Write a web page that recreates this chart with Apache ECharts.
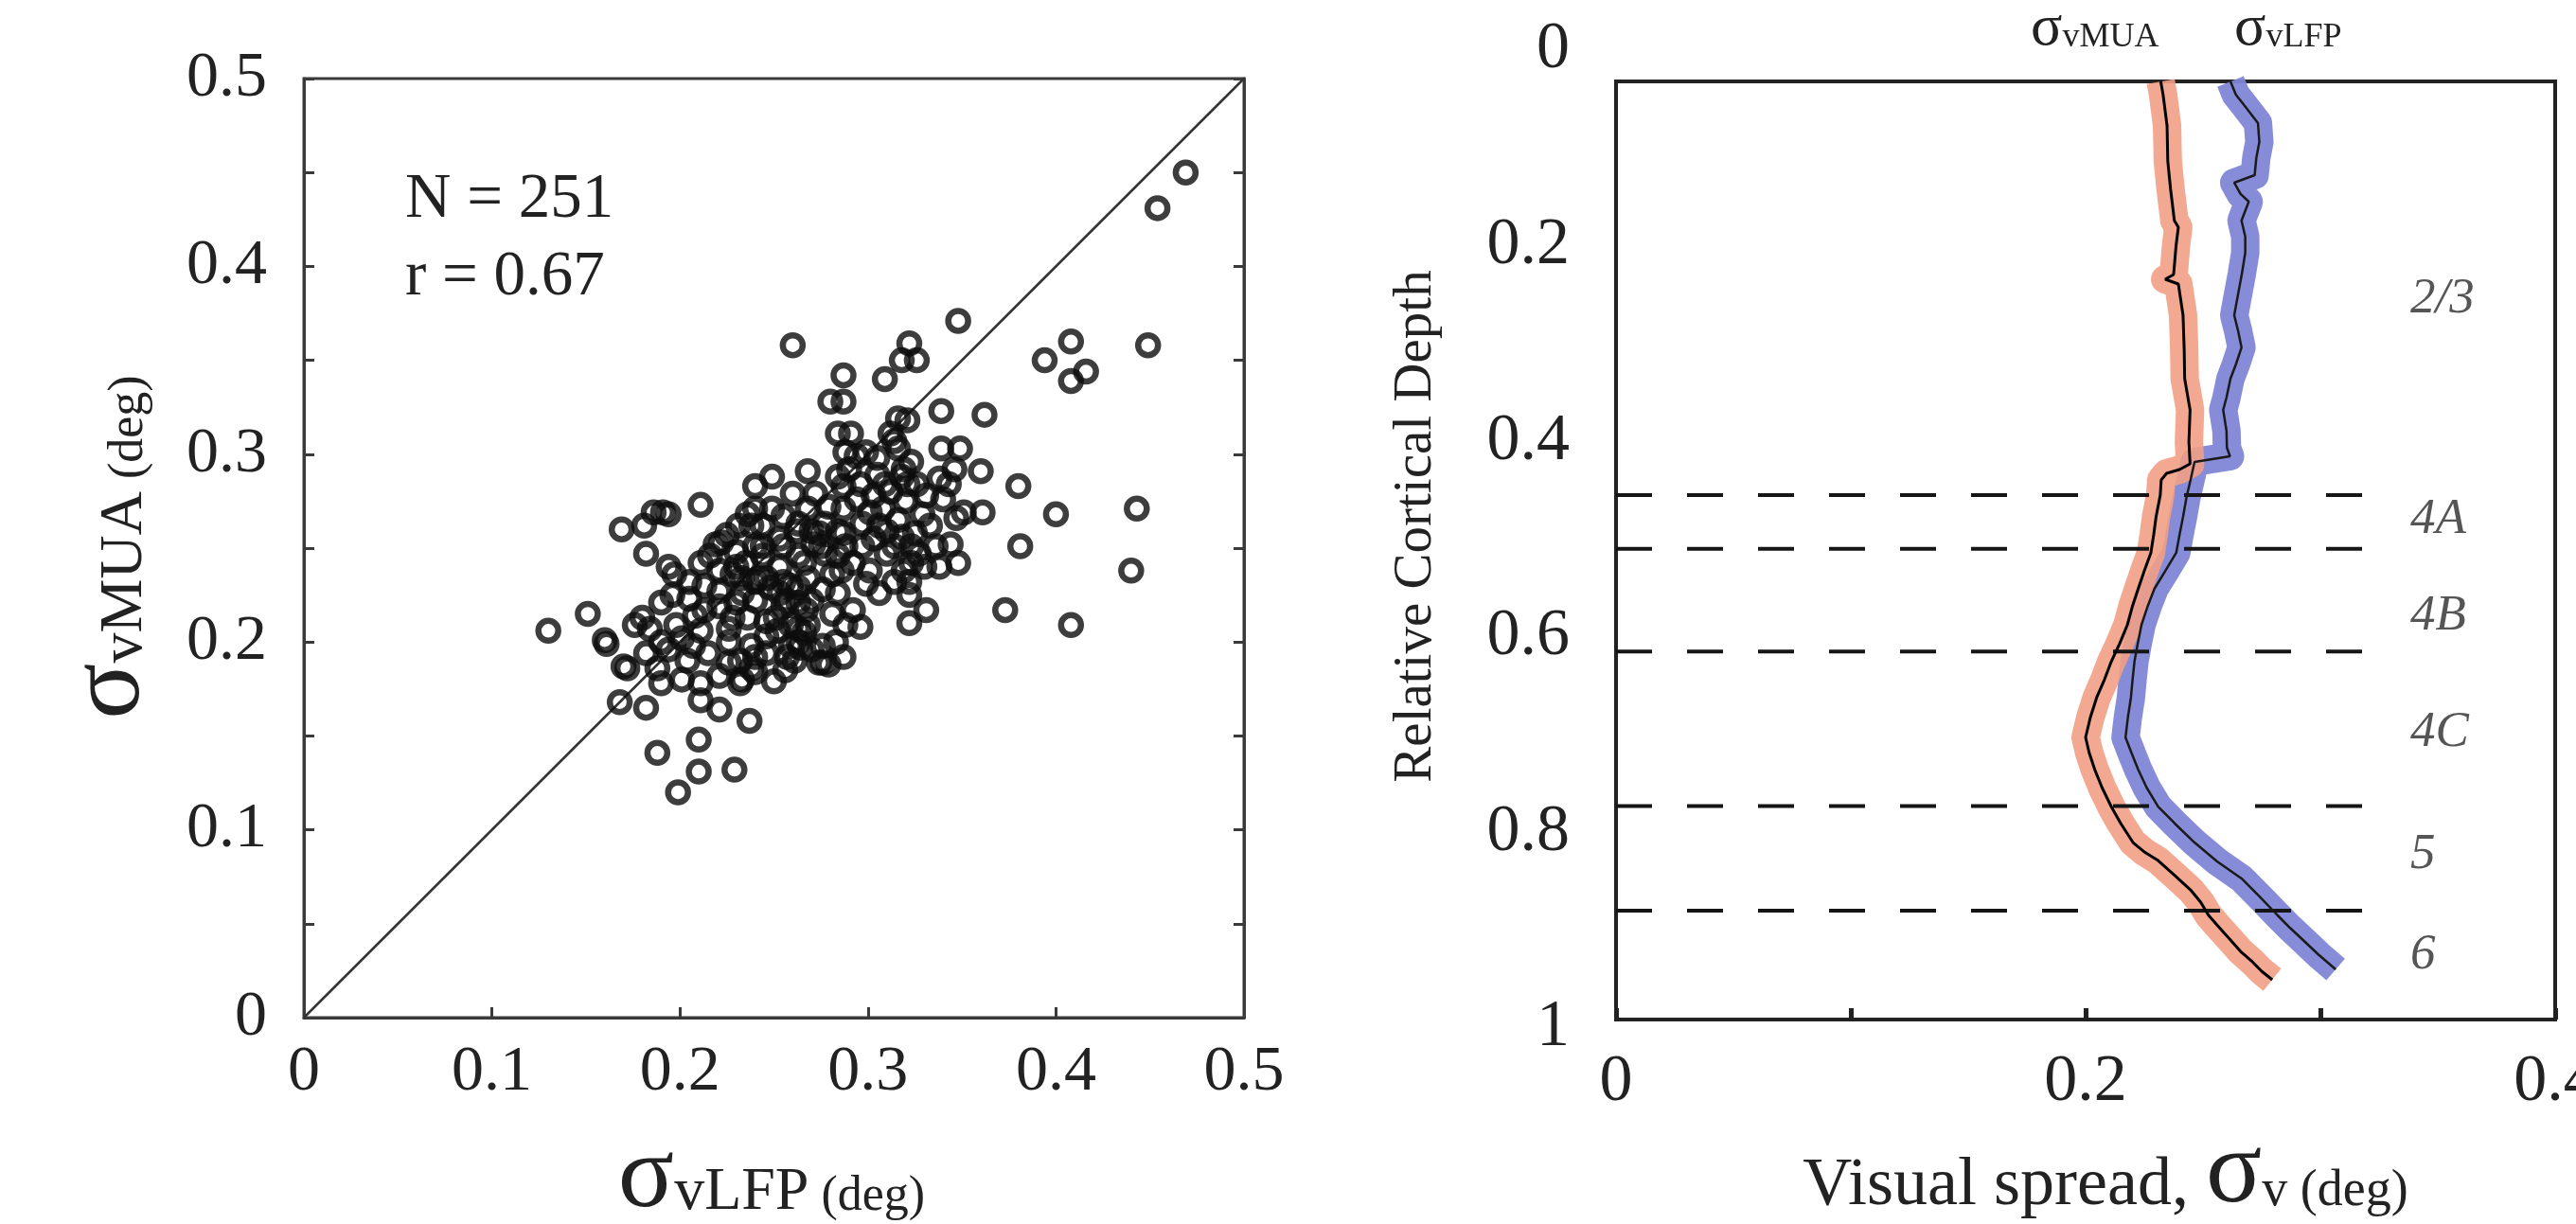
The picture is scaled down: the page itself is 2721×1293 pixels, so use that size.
<!DOCTYPE html>
<html>
<head>
<meta charset="utf-8">
<script src="https://cdn.jsdelivr.net/npm/echarts@6/dist/echarts.min.js"></script>
<style>
  html, body { margin: 0; padding: 0; background: #fff; }
  #chart { width: 2721px; height: 1293px; }
</style>
</head>
<body>
<div id="chart"></div>
<script>
const SERIF = '"Liberation Serif", "Times New Roman", serif';

// ---- Left panel: visual spread per recording site, LFP (x) vs MUA (y), deg ----
const siteSpread = [
  [0.469,0.450],[0.454,0.431],[0.348,0.371],[0.260,0.358],[0.322,0.359],[0.318,0.350],[0.326,0.350],[0.309,0.340],[0.287,0.342],[0.408,0.360],
  [0.449,0.358],[0.394,0.350],[0.408,0.339],[0.416,0.344],[0.339,0.323],[0.362,0.321],[0.280,0.328],[0.287,0.328],[0.284,0.311],[0.291,0.311],
  [0.316,0.319],[0.321,0.318],[0.339,0.303],[0.349,0.303],[0.360,0.291],[0.380,0.283],[0.400,0.268],[0.443,0.271],[0.381,0.251],[0.440,0.238],
  [0.373,0.217],[0.408,0.209],[0.322,0.210],[0.331,0.217],[0.348,0.242],[0.361,0.269],[0.347,0.266],[0.351,0.269],[0.338,0.287],[0.331,0.278],
  [0.329,0.268],[0.336,0.251],[0.323,0.251],
  [0.130,0.206],[0.151,0.215],[0.160,0.201],[0.161,0.199],[0.170,0.187],[0.172,0.186],[0.168,0.168],[0.182,0.165],[0.188,0.141],[0.210,0.148],
  [0.210,0.131],[0.199,0.120],[0.229,0.132],[0.237,0.158],[0.221,0.164],[0.169,0.260],[0.181,0.262],[0.186,0.269],[0.191,0.269],[0.194,0.268],
  [0.182,0.247],[0.211,0.273],[0.250,0.179],[0.233,0.180],
  [0.249,0.288],[0.240,0.283],[0.268,0.291],[0.272,0.279],[0.260,0.279],[0.231,0.262],[0.219,0.252],[0.240,0.271],[0.255,0.267],[0.263,0.263],
  [0.274,0.258],[0.287,0.283],[0.287,0.271],[0.287,0.258],[0.284,0.246],[0.286,0.238],[0.230,0.248],[0.230,0.240],[0.194,0.240],[0.197,0.236],
  [0.211,0.242],[0.221,0.238],[0.228,0.236],[0.205,0.232],[0.213,0.230],[0.221,0.227],[0.240,0.232],[0.248,0.229],[0.255,0.232],[0.263,0.229],
  [0.190,0.221],[0.196,0.225],[0.205,0.223],[0.213,0.217],[0.221,0.219],[0.230,0.221],[0.236,0.213],[0.226,0.207],[0.255,0.219],[0.263,0.221],
  [0.267,0.217],[0.246,0.211],[0.252,0.206],[0.263,0.207],[0.263,0.200],[0.279,0.188],[0.276,0.198],[0.283,0.200],[0.287,0.192],[0.176,0.209],
  [0.180,0.213],[0.184,0.207],[0.190,0.200],[0.182,0.194],[0.188,0.186],[0.194,0.196],[0.201,0.202],[0.207,0.198],[0.211,0.206],[0.190,0.178],
  [0.201,0.180],[0.211,0.178],[0.211,0.169],[0.221,0.182],[0.232,0.178],[0.238,0.186],[0.240,0.192],[0.256,0.185],[0.261,0.190],[0.274,0.189],
  [0.276,0.189],[0.226,0.200],[0.232,0.190],[0.238,0.198],
  [0.246,0.203],[0.259,0.198],[0.244,0.246],[0.253,0.240],[0.263,0.246],[0.271,0.252],
  [0.288,0.301],[0.294,0.299],[0.299,0.301],[0.305,0.298],[0.316,0.303],[0.323,0.296],[0.319,0.292],[0.312,0.311],[0.314,0.307],[0.284,0.288],
  [0.290,0.292],[0.294,0.276],[0.301,0.269],[0.308,0.271],[0.312,0.280],[0.316,0.265],[0.310,0.259],[0.284,0.259],[0.288,0.251],[0.297,0.251],
  [0.303,0.255],[0.292,0.242],[0.301,0.238],[0.310,0.247],[0.284,0.226],[0.292,0.217],[0.288,0.209],[0.314,0.232],[0.322,0.232],[0.319,0.238],
  [0.323,0.242],[0.327,0.247],[0.314,0.251],[0.333,0.262],[0.326,0.284],[0.340,0.276],[0.344,0.252],[0.343,0.284],[0.346,0.292],[0.321,0.284],
  [0.318,0.288],[0.281,0.215],[0.296,0.208],[0.270,0.196],[0.268,0.209],[0.266,0.205],[0.259,0.209],[0.257,0.192],[0.264,0.197],[0.240,0.184],
  [0.226,0.189],[0.266,0.242],[0.268,0.234],[0.277,0.247],[0.270,0.259],[0.275,0.251],[0.268,0.271],[0.262,0.259],[0.253,0.255],[0.249,0.271],
  [0.255,0.251],[0.244,0.251],[0.246,0.234],[0.253,0.226],[0.259,0.230],[0.257,0.222],[0.240,0.222],[0.233,0.226],[0.251,0.213],[0.235,0.242],
  [0.242,0.234],[0.233,0.234],[0.236,0.268],[0.240,0.251],[0.225,0.257],
  [0.296,0.284],[0.305,0.289],[0.309,0.284],[0.303,0.278],[0.297,0.263],[0.306,0.262],[0.320,0.275],[0.325,0.258],[0.318,0.256],[0.338,0.240],
  [0.330,0.240],[0.322,0.225],[0.299,0.231],[0.306,0.226],[0.279,0.272],[0.277,0.263],[0.281,0.236],[0.276,0.228],[0.270,0.222],[0.216,0.246],
  [0.222,0.253],[0.208,0.214],[0.198,0.209],[0.204,0.190],[0.215,0.194],[0.246,0.194],[0.228,0.213],[0.244,0.262],[0.238,0.262]
];
const siteCount = 251;
const correlation = 0.67;
const unityLine = [[0, 0], [0.5, 0.5]];

// ---- Right panel: spread profiles across relative cortical depth ----
const muaDepth = [0.032,0.0455,0.0774,0.1133,0.1423,0.1742,0.181,0.2004,0.2294,0.2343,0.2391,0.2711,0.3069,0.3359,0.3679,0.4008,0.4230,0.4289,0.4327,0.4395,
  0.4550,0.4772,0.4956,0.5140,0.5324,0.5508,0.5682,0.5876,0.6069,0.6254,0.6438,0.6621,0.6825,0.7028,0.7183,0.7357,0.7541,0.7735,0.7909,0.8103,
  0.8199,0.8287,0.8441,0.8587,0.8712,0.8848,0.8974,0.9100,0.9216,0.9322,0.9419,0.9506];
const muaSpread = [0.232,0.233,0.2347,0.235,0.2362,0.2378,0.2395,0.2385,0.2375,0.2339,0.2395,0.2415,0.242,0.2422,0.2445,0.2440,0.2445,0.240,0.2345,0.2322,
  0.2318,0.230,0.229,0.2278,0.2250,0.2224,0.2200,0.2178,0.2145,0.2109,0.2080,0.2047,0.2020,0.2000,0.2015,0.2039,0.2070,0.2109,0.2150,0.2202,
  0.2250,0.2309,0.2380,0.2447,0.2490,0.2524,0.2570,0.2617,0.2660,0.2710,0.2750,0.2795];
const lfpDepth = [0.032,0.0455,0.0552,0.0745,0.0939,0.1104,0.1278,0.1355,0.1471,0.1549,0.1742,0.1907,0.2072,0.2294,0.2488,0.2711,0.2875,0.3040,0.3214,0.3359,
  0.3553,0.3679,0.3892,0.4066,0.4153,0.4211,0.4395,0.4569,0.4772,0.4956,0.5140,0.5324,0.5508,0.5682,0.5876,0.6069,0.6254,0.6438,0.6621,0.6825,
  0.7028,0.7183,0.7357,0.7541,0.7735,0.7909,0.8103,0.8296,0.8470,0.8654,0.8848,0.8974,0.9100,0.9245,0.9400];
const lfpSpread = [0.2617,0.2640,0.2672,0.2734,0.2740,0.2727,0.2720,0.2633,0.2660,0.2695,0.2664,0.2680,0.2680,0.2665,0.2650,0.2633,0.2650,0.2664,0.2640,0.2617,
  0.2600,0.2586,0.2600,0.2602,0.2615,0.2464,0.2447,0.2430,0.2415,0.2400,0.2386,0.2340,0.2293,0.2265,0.2238,0.2222,0.2208,0.2200,0.2193,0.2180,
  0.2170,0.2195,0.2224,0.2260,0.2309,0.2380,0.2464,0.2560,0.2664,0.2740,0.2818,0.2870,0.2926,0.2990,0.3065];

const layerBoundaries = [0.455, 0.510, 0.615, 0.773, 0.880];
const boundarySpan = [0, 0.318];
const layerNames = ['2/3', '4A', '4B', '4C', '5', '6'];
const layerNameDepth = [0.255, 0.480, 0.579, 0.698, 0.823, 0.926];
const layerNameSpread = 0.3383;

// ---- helpers ----
const pairs = (xs, ys) => xs.map((x, i) => [x, ys[i]]);
const muaProfile = pairs(muaSpread, muaDepth);
const lfpProfile = pairs(lfpSpread, lfpDepth);
const fmt1 = v => (Math.abs(v) < 1e-9 ? '0' : (Math.abs(v - 1) < 1e-9 ? '1' : v.toFixed(1)));
const TXT = '#222';

const chart = echarts.init(document.getElementById('chart'), null, { renderer: 'canvas' });

const boundarySeries = layerBoundaries.map(d => ({
  type: 'line', xAxisIndex: 2, yAxisIndex: 3, symbol: 'none', silent: true, z: 4,
  data: [[boundarySpan[0], d], [boundarySpan[1], d]],
  lineStyle: { color: '#151515', width: 4, type: [38, 37] }
}));

const option = {
  animation: false,
  backgroundColor: '#fff',
  textStyle: { fontFamily: SERIF, color: TXT },
  grid: [
    { left: 321, top: 83, width: 993, height: 992, show: true, borderColor: '#3a3a3a', borderWidth: 3, backgroundColor: 'transparent', outerBoundsMode: 'none' },
    { left: 1707, top: 86, width: 992, height: 991, show: true, borderColor: '#222', borderWidth: 4, backgroundColor: 'transparent', outerBoundsMode: 'none' },
    { left: 1707, top: 53, width: 992, height: 1033, outerBoundsMode: 'none' }
  ],
  xAxis: [
    {
      gridIndex: 0, type: 'value', min: 0, max: 0.5, interval: 0.1,
      axisLine: { show: true, lineStyle: { color: '#3a3a3a', width: 3 } },
      axisTick: { show: true, inside: true, length: 11, lineStyle: { color: '#3a3a3a', width: 3 } },
      axisLabel: { fontFamily: SERIF, fontSize: 68, color: TXT, margin: 24, formatter: fmt1 },
      splitLine: { show: false }
    },
    {
      gridIndex: 1, type: 'value', min: 0, max: 0.4, interval: 0.1,
      axisLine: { show: true, lineStyle: { color: '#222', width: 4 } },
      axisTick: { show: true, inside: true, length: 12, lineStyle: { color: '#222', width: 5 } },
      axisLabel: {
        fontFamily: SERIF, fontSize: 70, color: TXT, margin: 32,
        formatter: v => (Math.round(v * 10) % 2 === 0 ? fmt1(v) : '')
      },
      splitLine: { show: false }
    },
    { gridIndex: 2, type: 'value', min: 0, max: 0.4, show: false }
  ],
  yAxis: [
    {
      gridIndex: 0, type: 'value', min: 0, max: 0.5, interval: 0.05,
      axisLine: { show: true, lineStyle: { color: '#3a3a3a', width: 3 } },
      axisTick: { show: true, inside: true, length: 11, lineStyle: { color: '#3a3a3a', width: 3 } },
      axisLabel: {
        fontFamily: SERIF, fontSize: 68, color: TXT, margin: 39,
        formatter: v => (Math.round(v * 100) % 10 === 0 ? fmt1(v) : '')
      },
      splitLine: { show: false }
    },
    {
      gridIndex: 0, type: 'value', position: 'right', min: 0, max: 0.5, interval: 0.05,
      axisLine: { show: true, lineStyle: { color: '#3a3a3a', width: 3 } },
      axisTick: { show: true, inside: true, length: 11, lineStyle: { color: '#3a3a3a', width: 3 } },
      axisLabel: { show: false },
      splitLine: { show: false }
    },
    { gridIndex: 1, type: 'value', min: 0, max: 1, show: false },
    {
      gridIndex: 2, type: 'value', min: 0, max: 1, interval: 0.2, inverse: true,
      axisLine: { show: false }, axisTick: { show: false },
      axisLabel: { fontFamily: SERIF, fontSize: 70, color: TXT, margin: 49, formatter: fmt1 },
      splitLine: { show: false }
    }
  ],
  series: [
    {
      type: 'line', xAxisIndex: 0, yAxisIndex: 0, data: unityLine, symbol: 'none', silent: true, z: 2,
      lineStyle: { color: '#333', width: 2.5 }
    },
    {
      type: 'scatter', xAxisIndex: 0, yAxisIndex: 0, data: siteSpread, symbol: 'circle', symbolSize: 21, z: 3,
      itemStyle: { color: 'rgba(0,0,0,0)', borderColor: '#0d0d0d', borderWidth: 6.5 }
    },
    {
      type: 'line', xAxisIndex: 2, yAxisIndex: 3, data: lfpProfile, symbol: 'none', silent: true, z: 2,
      lineStyle: { color: '#7f86d6', width: 30, opacity: 0.95, join: 'round', cap: 'butt' }
    },
    {
      type: 'line', xAxisIndex: 2, yAxisIndex: 3, data: muaProfile, symbol: 'none', silent: true, z: 3,
      lineStyle: { color: '#f29f86', width: 30, opacity: 0.9, join: 'round', cap: 'butt' }
    },
    ...boundarySeries,
    {
      type: 'line', xAxisIndex: 2, yAxisIndex: 3, data: lfpProfile, symbol: 'none', silent: true, z: 5,
      lineStyle: { color: '#1a1a1a', width: 2.5 }
    },
    {
      type: 'line', xAxisIndex: 2, yAxisIndex: 3, data: muaProfile, symbol: 'none', silent: true, z: 5,
      lineStyle: { color: '#000', width: 3 }
    },
    {
      type: 'scatter', xAxisIndex: 2, yAxisIndex: 3, symbolSize: 0, silent: true, z: 6,
      data: layerNames.map((n, i) => ({ name: n, value: [layerNameSpread, layerNameDepth[i]] })),
      label: {
        show: true, position: 'right', distance: 0, formatter: p => p.name,
        fontFamily: SERIF, fontStyle: 'italic', fontSize: 53, color: '#2a2a2a'
      }
    }
  ],
  graphic: [
    { type: 'text', x: 428, y: 211, style: { text: 'N = ' + siteCount, fontFamily: SERIF, fontSize: 67, fill: TXT, verticalAlign: 'middle' } },
    { type: 'text', x: 428, y: 293, style: { text: 'r = ' + correlation.toFixed(2), fontFamily: SERIF, fontSize: 67, fill: TXT, verticalAlign: 'middle' } },
    {
      type: 'text', x: 815, y: 1300,
      style: {
        text: '{s|σ}{m|vLFP}{d| (deg)}', align: 'center', verticalAlign: 'bottom', fill: TXT,
        rich: {
          s: { fontFamily: SERIF, fontSize: 110, verticalAlign: 'bottom', fill: TXT },
          m: { fontFamily: SERIF, fontSize: 64, verticalAlign: 'bottom', padding: [0, 0, 8, 0], fill: TXT },
          d: { fontFamily: SERIF, fontSize: 52, verticalAlign: 'bottom', padding: [0, 0, 10, 0], fill: TXT }
        }
      }
    },
    {
      type: 'text', x: 117, y: 578, rotation: Math.PI / 2,
      style: {
        text: '{s|σ}{m|vMUA}{d| (deg)}', align: 'center', verticalAlign: 'middle', fill: TXT,
        rich: {
          s: { fontFamily: SERIF, fontSize: 110, verticalAlign: 'bottom', fill: TXT },
          m: { fontFamily: SERIF, fontSize: 64, verticalAlign: 'bottom', padding: [0, 0, 8, 0], fill: TXT },
          d: { fontFamily: SERIF, fontSize: 52, verticalAlign: 'bottom', padding: [0, 0, 10, 0], fill: TXT }
        }
      }
    },
    {
      type: 'text', x: 2224, y: 1295,
      style: {
        text: '{t|Visual spread, }{s|σ}{d|v (deg)}', align: 'center', verticalAlign: 'bottom', fill: TXT,
        rich: {
          t: { fontFamily: SERIF, fontSize: 72, verticalAlign: 'bottom', padding: [0, 0, 6, 0], fill: TXT },
          s: { fontFamily: SERIF, fontSize: 110, verticalAlign: 'bottom', fill: TXT },
          d: { fontFamily: SERIF, fontSize: 54, verticalAlign: 'bottom', padding: [0, 0, 9, 0], fill: TXT }
        }
      }
    },
    {
      type: 'text', x: 1496, y: 556, rotation: Math.PI / 2,
      style: { text: 'Relative Cortical Depth', align: 'center', verticalAlign: 'middle', fontFamily: SERIF, fontSize: 57, fill: TXT }
    },
    {
      type: 'text', x: 2145, y: 62,
      style: {
        text: '{s|σ}{m|vMUA}', align: 'left', verticalAlign: 'bottom', fill: TXT,
        rich: {
          s: { fontFamily: SERIF, fontSize: 62, verticalAlign: 'bottom', fill: TXT },
          m: { fontFamily: SERIF, fontSize: 36, verticalAlign: 'bottom', padding: [0, 0, 4, 0], fill: TXT }
        }
      }
    },
    {
      type: 'text', x: 2360, y: 62,
      style: {
        text: '{s|σ}{m|vLFP}', align: 'left', verticalAlign: 'bottom', fill: TXT,
        rich: {
          s: { fontFamily: SERIF, fontSize: 62, verticalAlign: 'bottom', fill: TXT },
          m: { fontFamily: SERIF, fontSize: 36, verticalAlign: 'bottom', padding: [0, 0, 4, 0], fill: TXT }
        }
      }
    }
  ]
};

chart.setOption(option);
</script>
</body>
</html>
